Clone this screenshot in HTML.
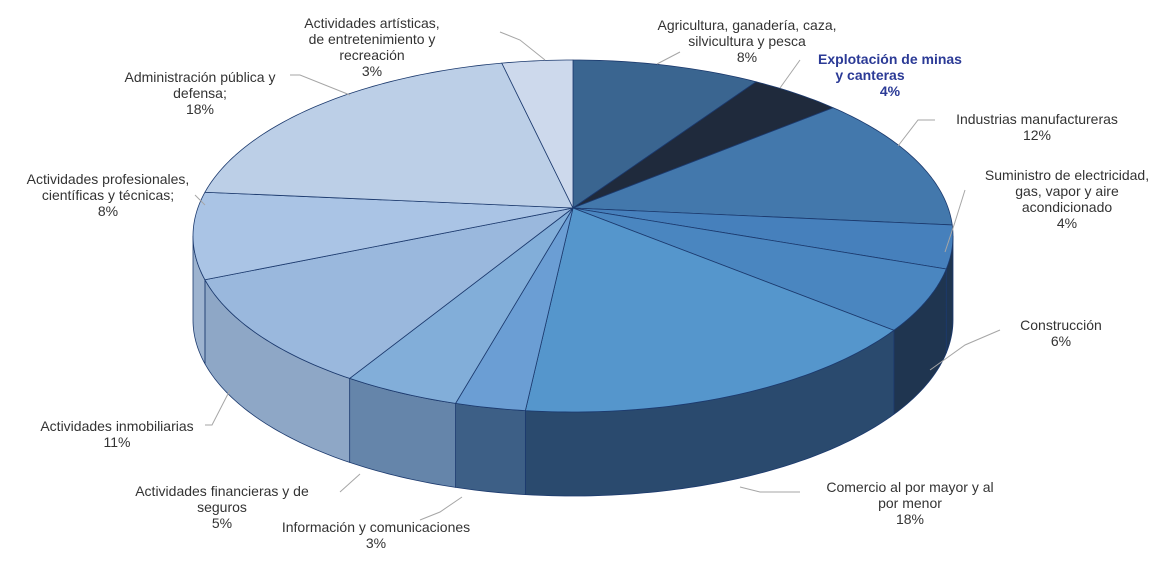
<!DOCTYPE html>
<html><head><meta charset="utf-8">
<style>
html,body{margin:0;padding:0;background:#fff}
svg text{font-family:"Liberation Sans",sans-serif;font-size:14px;fill:#333}
</style></head>
<body>
<svg id="s" width="1170" height="558" xmlns="http://www.w3.org/2000/svg">
<g id="pie"></g>
<g stroke="#a6a6a6" stroke-width="1" fill="none">
<polyline points="657,64 680,52"/>
<polyline points="780,88 800,60"/>
<polyline points="898,146 918,120 935,120"/>
<polyline points="945,252 955,222 965,190"/>
<polyline points="930,370 965,345 1000,330"/>
<polyline points="740,487 760,492 800,492"/>
<polyline points="462,497 440,512 420,520"/>
<polyline points="360,474 340,492"/>
<polyline points="230,390 212,425 205,425"/>
<polyline points="205,205 195,195"/>
<polyline points="350,95 300,75 290,75"/>
<polyline points="545,60 520,40 500,32"/>
</g>
<g text-anchor="middle">
<text x="747" y="30">Agricultura, ganadería, caza,</text>
<text x="747" y="46">silvicultura y pesca</text>
<text x="747" y="62">8%</text>
<text x="890" y="64" style="font-weight:bold;fill:#2b3a96">Explotación de minas</text>
<text x="870" y="80" style="font-weight:bold;fill:#2b3a96">y canteras</text>
<text x="890" y="96" style="font-weight:bold;fill:#2b3a96">4%</text>
<text x="1037" y="124">Industrias manufactureras</text>
<text x="1037" y="140">12%</text>
<text x="1067" y="180">Suministro de electricidad,</text>
<text x="1067" y="196">gas, vapor y aire</text>
<text x="1067" y="212">acondicionado</text>
<text x="1067" y="228">4%</text>
<text x="1061" y="330">Construcción</text>
<text x="1061" y="346">6%</text>
<text x="910" y="492">Comercio al por mayor y al</text>
<text x="910" y="508">por menor</text>
<text x="910" y="524">18%</text>
<text x="376" y="532">Información y comunicaciones</text>
<text x="376" y="548">3%</text>
<text x="222" y="496">Actividades financieras y de</text>
<text x="222" y="512">seguros</text>
<text x="222" y="528">5%</text>
<text x="117" y="431">Actividades inmobiliarias</text>
<text x="117" y="447">11%</text>
<text x="108" y="184">Actividades profesionales,</text>
<text x="108" y="200">científicas y técnicas;</text>
<text x="108" y="216">8%</text>
<text x="200" y="82">Administración pública y</text>
<text x="200" y="98">defensa;</text>
<text x="200" y="114">18%</text>
<text x="372" y="28">Actividades artísticas,</text>
<text x="372" y="44">de entretenimiento y</text>
<text x="372" y="60">recreación</text>
<text x="372" y="76">3%</text>
</g>
</svg>
<script>
(function(){
var cx=573,cy=236,rx=380,ry=176,ax=573,ay=208,D=84;
var pc=[8,4,12,4,6,18,3,5,11,8,18,3];
var col=["#3a6590","#1f2a3c","#4378ac","#4680bc","#4a86c0","#5596cc","#6b9ed4","#82aed9","#9ab8dd","#aac4e5","#bccfe7","#cdd9ec"];
var sideCol=["#22384f","#151d2b","#1f3550","#1f3550","#1f3550","#2a4a6e","#3d5f86","#6585aa","#8ea7c6","#9db3cf","#aabdd6","#b8c8de"];
function P(a,d){a=a*Math.PI/180;return [cx+rx*Math.sin(a),cy-ry*Math.cos(a)+(d||0)];}
function arc(s0,s1,d){var n=Math.max(2,Math.ceil(Math.abs(s1-s0))),r=[];for(var k=0;k<=n;k++){r.push(P(s0+(s1-s0)*k/n,d));}return r;}
function str(pts){return pts.map(function(q){return q[0].toFixed(2)+","+q[1].toFixed(2);}).join("L");}
var g=document.getElementById('pie'),ns="http://www.w3.org/2000/svg";
function add(d,f){var p=document.createElementNS(ns,'path');p.setAttribute('d',d);p.setAttribute('fill',f);p.setAttribute('stroke','#1c3a6e');p.setAttribute('stroke-width','0.8');p.setAttribute('stroke-linejoin','round');g.appendChild(p);}
var a=0,sl=[];
pc.forEach(function(v,i){sl.push([a,a+v*3.6,i]);a+=v*3.6;});
sl.forEach(function(s){
 var s0=Math.max(s[0],90),s1=Math.min(s[1],270);
 if(s1<=s0)return;
 var top=arc(s0,s1,0),bot=arc(s1,s0,D);
 add("M"+str(top.concat(bot))+"Z",sideCol[s[2]]);
});
sl.forEach(function(s){
 add("M"+ax+","+ay+"L"+str(arc(s[0],s[1],0))+"Z",col[s[2]]);
});
})();
</script>
</body></html>
